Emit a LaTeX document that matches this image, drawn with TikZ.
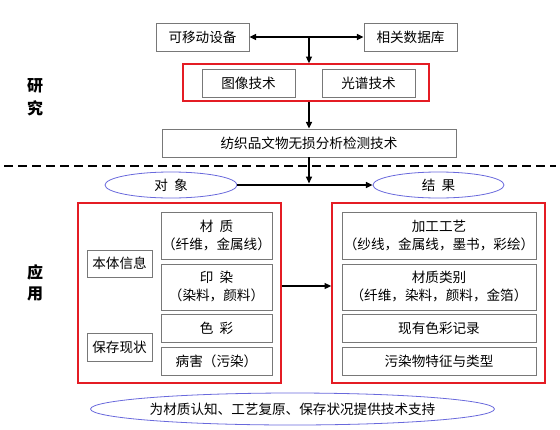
\documentclass[tikz,border=0pt]{standalone}
\usepackage{fontspec}
\setmainfont{Noto Sans CJK SC}
\usetikzlibrary{arrows.meta,shapes.geometric}
\definecolor{boxgray}{RGB}{120,120,120}
\definecolor{framered}{RGB}{228,28,36}
\definecolor{ellblue}{RGB}{105,105,220}
\newcommand{\gapsp}{\hspace{0.45em}}
\begin{document}
\begin{tikzpicture}[x=0.75pt,y=-0.75pt,
  sz/.style 2 args={minimum width=#1*0.75pt, minimum height=#2*0.75pt},
  txt/.style={font=\fontsize{10.2pt}{13.5pt}\selectfont, align=center, inner sep=0pt},
  gbox/.style={txt, draw=boxgray, line width=0.7pt},
  rbox/.style={draw=framered, line width=1.2pt, inner sep=0pt},
  ell/.style={txt, ellipse, draw=ellblue, line width=0.6pt},
  side/.style={font=\fontsize{12pt}{14pt}\selectfont\bfseries, inner sep=0pt},
  arr/.style={line width=1pt, -{Triangle[length=5pt,width=4.5pt]}},
  darr/.style={line width=1pt, {Triangle[length=5pt,width=4.5pt]}-{Triangle[length=5pt,width=4.5pt]}}
]
\useasboundingbox (0,0) rectangle (560,429);

% side labels
\node[side] (s1) at (35,86) {研};
\node[side] (s2) at (35,108) {究};
\node[side] (s3) at (35,272) {应};
\node[side] (s4) at (35,294) {用};

% top part
\node[gbox, sz={93}{28}] (mob) at (202.5,37) {可移动设备};
\node[gbox, sz={93}{28}] (db) at (410.5,37) {相关数据库};
\node[rbox, sz={246}{37}] (rtop) at (306,82.5) {};
\node[gbox, sz={93}{28}] (img) at (248.5,83) {图像技术};
\node[gbox, sz={93}{28}] (spec) at (368.5,83) {光谱技术};
\node[gbox, sz={294}{28}] (tex) at (309,143) {纺织品文物无损分析检测技术};

\coordinate (mid) at (309,37);
\draw[darr] (mob.east) -- (db.west);
\draw[arr] (mid) -- (mid |- rtop.north);
\draw[arr] (rtop.south -| tex.north) -- (tex.north);

% dashed divider
\draw[line width=1.6pt, dash pattern=on 6.5pt off 4pt] (4,166) -- (556,166);

% object / result ellipses
\node[ell, sz={132}{26}] (obj) at (171,185) {对\gapsp 象};
\node[ell, sz={131}{26}] (res) at (438.5,185) {结\gapsp 果};
\coordinate (join) at (309,185);
\draw[arr] (obj.east) -- (res.west);
\draw[arr] (tex.south) -- ([yshift=1.2pt]join);

% left frame
\node[rbox, sz={203}{180}] (lf) at (179.5,293) {};
\node[gbox, sz={65}{27}] (bt) at (119.5,263.5) {本体信息};
\node[gbox, sz={65}{28}] (bc) at (119.5,347) {保存现状};
\node[gbox, sz={111}{47}] (cz) at (216.5,235.5) {材\gapsp 质\\（纤维，金属线）};
\node[gbox, sz={111}{46}] (yr) at (216.5,287) {印\gapsp 染\\（染料，颜料）};
\node[gbox, sz={111}{28}] (sc) at (216.5,328) {色\gapsp 彩};
\node[gbox, sz={111}{28}] (bh) at (216.5,361) {病害（污染）};

% right frame
\node[rbox, sz={213}{180}] (rf) at (438.5,293) {};
\node[gbox, sz={194}{47}] (jg) at (439,235.5) {加工工艺\\（纱线，金属线，墨书，彩绘）};
\node[gbox, sz={194}{46}] (lb) at (439,287) {材质类别\\（纤维，染料，颜料，金箔）};
\node[gbox, sz={194}{28}] (ys) at (439,328) {现有色彩记录};
\node[gbox, sz={194}{28}] (wr) at (439,361) {污染物特征与类型};

\draw[arr] (lf.east |- 0,286) -- (rf.west |- 0,286);

% bottom ellipse
\node[ell, sz={375}{32}] (sup) at (292.5,409) {为材质认知、工艺复原、保存状况提供技术支持};
\end{tikzpicture}
\end{document}
